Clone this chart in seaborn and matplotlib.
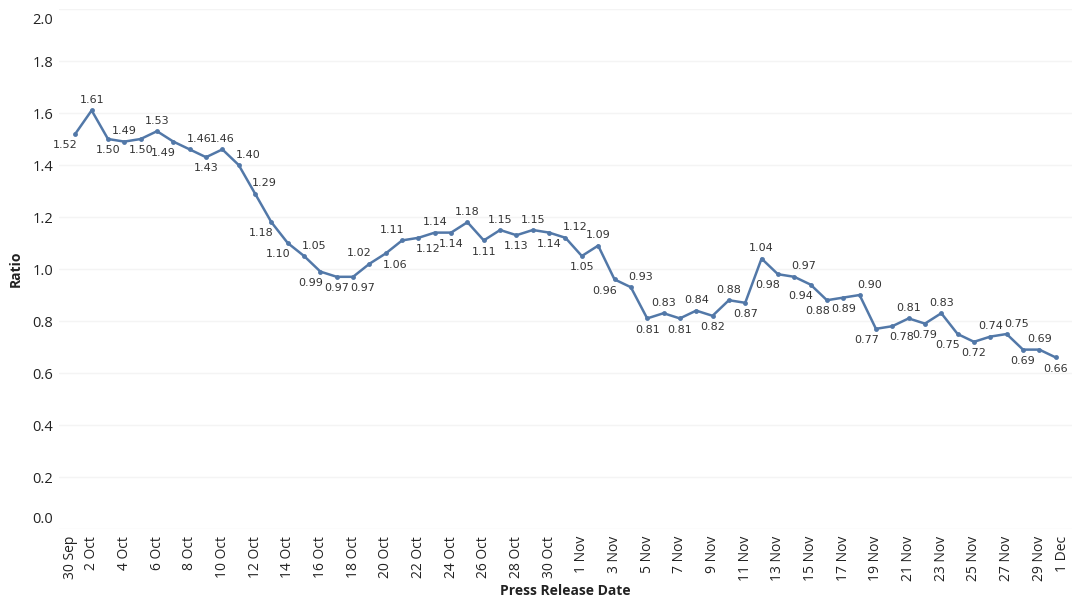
import matplotlib
matplotlib.use("Agg")
import matplotlib.pyplot as plt
import matplotlib.transforms as mtransforms
import pandas as pd
import seaborn as sns

# Data: daily ratio, 1 Oct - 30 Nov
dates = pd.date_range("2020-10-01", "2020-11-30", freq="D")
ratio = [1.52, 1.61, 1.50, 1.49, 1.50, 1.53, 1.49, 1.46, 1.43, 1.46,
         1.40, 1.29, 1.18, 1.10, 1.05, 0.99, 0.97, 0.97, 1.02, 1.06,
         1.11, 1.12, 1.14, 1.14, 1.18, 1.11, 1.15, 1.13, 1.15, 1.14,
         1.12, 1.05, 1.09, 0.96, 0.93, 0.81, 0.83, 0.81, 0.84, 0.82,
         0.88, 0.87, 1.04, 0.98, 0.97, 0.94, 0.88, 0.89, 0.90, 0.77,
         0.78, 0.81, 0.79, 0.83, 0.75, 0.72, 0.74, 0.75, 0.69, 0.69,
         0.66]
axis_days = pd.date_range("2020-09-30", "2020-12-01", freq="D")
tick_labels = [f"{d.day} {d.strftime('%b')}" if i % 2 == 0 else ""
               for i, d in enumerate(axis_days)]
y_ticks = [0.0, 0.2, 0.4, 0.6, 0.8, 1.0, 1.2, 1.4, 1.6, 1.8, 2.0]

# where each value label sits: a=above, b=below, l/r=shift left/right
label_pos = ["bl", "a", "b", "a", "b", "a", "bl", "ar", "b", "a",
             "ar", "ar", "bl", "bl", "ar", "bl", "b", "br", "al", "br",
             "al", "br", "a", "b", "a", "b", "a", "b", "a", "b",
             "ar", "b", "a", "bl", "ar", "b", "a", "b", "a", "b",
             "a", "b", "a", "bl", "ar", "bl", "bl", "b", "ar", "bl",
             "br", "a", "b", "a", "bl", "b", "a", "ar", "b", "a",
             "b"]

df = pd.DataFrame({"date": dates, "ratio": ratio})

sns.set_style("white")
plt.rcParams["font.family"] = ["Open Sans", "DejaVu Sans"]

fig = plt.figure(figsize=(10.8, 6.08), dpi=100)
ax = fig.add_axes([0.0546, 0.1299, 0.9380, 0.8553])

line_color = "#5278a8"
sns.lineplot(data=df, x="date", y="ratio", ax=ax, color=line_color,
             linewidth=1.8, marker="o", markersize=3.5,
             markeredgewidth=0, markerfacecolor=line_color)

for d, v, p in zip(dates, ratio, label_pos):
    dy = 7.5 if "a" in p else -8
    dx = 0
    if "l" in p:
        dx = -7
    elif "r" in p:
        dx = 7
    ax.annotate(f"{v:.2f}", (d, v), xytext=(dx, dy), textcoords="offset points",
                ha="center", va="center", fontsize=8, color="#333333",
                family="DejaVu Sans")

ax.set_xlim(axis_days[0], axis_days[-1])
ax.set_ylim(0, 2)
ax.set_xticks(axis_days)
ax.set_xticklabels(tick_labels, rotation=90, fontsize=10, color="#222222")
ax.set_yticks(y_ticks)
ax.set_yticklabels([f"{t:.1f}" for t in y_ticks], fontsize=10.5, color="#222222")

ax.tick_params(axis="x", length=3, width=0.8, color="#b0b0b0", pad=2)
ax.tick_params(axis="y", length=3, width=0.8, color="#666666", pad=1)

for s in ax.spines.values():
    s.set_visible(False)
ax.grid(axis="y", color="#f4f4f4", linewidth=1)
ax.grid(axis="x", visible=False)

ax.set_xlabel("Press Release Date", fontsize=10, fontweight="bold", color="#222222", labelpad=2)
ax.set_ylabel("Ratio", fontsize=10, fontweight="bold", color="#222222", labelpad=7)

# keep edge labels inside the plot area like the original
xl = ax.get_xticklabels()
xl[0].set_transform(xl[0].get_transform() + mtransforms.ScaledTranslation(8 / 72, 0, fig.dpi_scale_trans))
xl[-1].set_transform(xl[-1].get_transform() + mtransforms.ScaledTranslation(-7 / 72, 0, fig.dpi_scale_trans))
yl = ax.get_yticklabels()
yl[0].set_transform(yl[0].get_transform() + mtransforms.ScaledTranslation(0, 8 / 72, fig.dpi_scale_trans))
yl[-1].set_transform(yl[-1].get_transform() + mtransforms.ScaledTranslation(0, -6.5 / 72, fig.dpi_scale_trans))

fig.savefig("out.png", dpi=100)
